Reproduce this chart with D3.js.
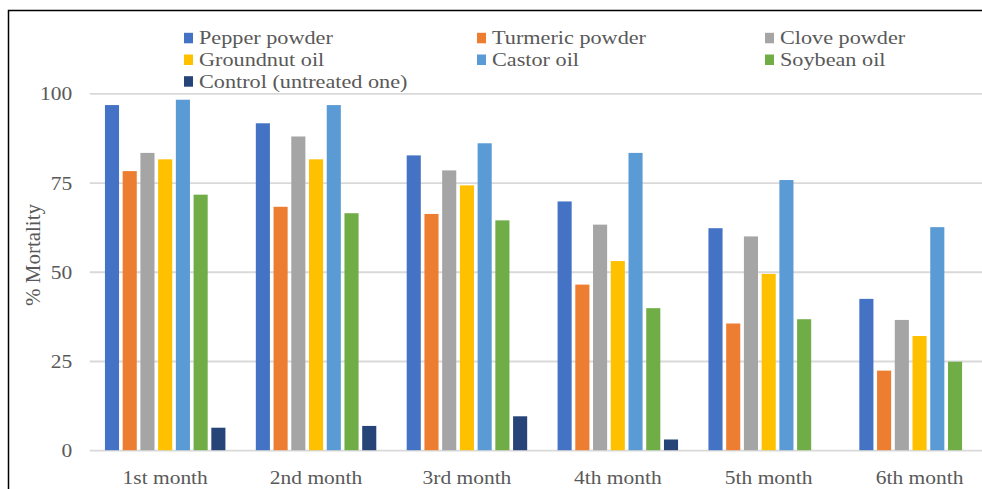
<!DOCTYPE html>
<html>
<head>
<meta charset="utf-8">
<script src="https://cdn.jsdelivr.net/npm/d3@7"></script>
<style>
html,body{margin:0;padding:0;background:#fff;}
svg{display:block;}
</style>
</head>
<body>
<svg id="chart" width="982" height="489"></svg>
<script>
const months = ["1st month","2nd month","3rd month","4th month","5th month","6th month"];
const seriesNames = ["Pepper powder","Turmeric powder","Clove powder","Groundnut oil","Castor oil","Soybean oil","Control (untreated one)"];
const seriesColors = ["#4472C4","#ED7D31","#A5A5A5","#FFC000","#5B9BD5","#70AD47","#264478"];
const pepper    = [96.7, 91.6, 82.6, 69.7, 62.2, 42.4];
const turmeric  = [78.2, 68.2, 66.2, 46.4, 35.5, 22.3];
const clove     = [83.3, 87.9, 78.4, 63.2, 59.9, 36.5];
const groundnut = [81.5, 81.5, 74.2, 53.0, 49.4, 32.0];
const castor    = [98.2, 96.7, 86.0, 83.3, 75.7, 62.5];
const soybean   = [71.6, 66.4, 64.4, 39.8, 36.7, 24.8];
const control   = [6.3, 6.8, 9.5, 3.0, 0, 0];
const yTicks = [0, 25, 50, 75, 100];
const yTitle = "% Mortality";

(function(){
const values = [pepper, turmeric, clove, groundnut, castor, soybean, control];

const svg = d3.select("#chart");
const FONT = "'Liberation Serif','Times New Roman',serif";
const TXT = "#595959";
const SX = 1.13;

svg.append("rect").attr("x",0).attr("y",0).attr("width",982).attr("height",489).attr("fill","#fff");
// outer frame
svg.append("rect").attr("x",8.5).attr("y",10.5).attr("width",1100).attr("height",600)
  .attr("fill","none").attr("stroke","#000").attr("stroke-width",1.5);

const pLeft = 89.75, pRight = 995, pTop = 93.3, pBottom = 450.2;
const x0 = d3.scaleBand().domain(months).range([pLeft, pRight]).paddingInner(0.2015).paddingOuter(0.1007);
const x1 = d3.scaleBand().domain(seriesNames).range([0, x0.bandwidth()]).paddingInner(0.205).paddingOuter(0);
const y = d3.scaleLinear().domain([0,100]).range([pBottom, pTop]);

// y axis with gridlines
const yAxis = svg.append("g").attr("transform",`translate(${pLeft},0)`)
  .call(d3.axisLeft(y).tickValues(yTicks).tickSize(-(pRight-pLeft)).tickFormat(d3.format("d")));
yAxis.select(".domain").remove();
yAxis.selectAll(".tick line").attr("stroke","#d9d9d9").attr("stroke-width",1.8);
yAxis.selectAll(".tick text")
  .attr("x",0).attr("dy",null).attr("y",0)
  .attr("dominant-baseline","central")
  .attr("transform",`translate(-17.5,0) scale(${SX},1)`)
  .attr("font-family",FONT).attr("font-size",19).attr("fill",TXT).attr("text-anchor","end");

// bars
const groups = svg.append("g").selectAll("g").data(months).join("g")
  .attr("transform", d => `translate(${x0(d)},0)`);
groups.selectAll("rect")
  .data((m,i) => seriesNames.map((s,j) => ({s, v: values[j][i], c: seriesColors[j]})))
  .join("rect")
  .attr("x", d => x1(d.s))
  .attr("width", x1.bandwidth())
  .attr("y", d => y(d.v))
  .attr("height", d => y(0) - y(d.v))
  .attr("fill", d => d.c);

// x axis labels
const xAxis = svg.append("g").attr("transform",`translate(0,${pBottom})`)
  .call(d3.axisBottom(x0).tickSize(0));
xAxis.select(".domain").remove();
xAxis.selectAll(".tick text")
  .attr("y",0).attr("dy",null)
  .attr("transform",`translate(0,33.5) scale(${SX},1)`)
  .attr("font-family",FONT).attr("font-size",19).attr("fill",TXT).attr("text-anchor","middle");

// y title
svg.append("text")
  .attr("transform","translate(40,255) rotate(-90)")
  .attr("text-anchor","middle")
  .attr("font-family",FONT).attr("font-size",21).attr("fill",TXT)
  .text(yTitle);

// legend
const legCols = [184, 477, 765];
const legRows = [44.3, 66, 87.7];
const leg = svg.append("g");
seriesNames.forEach((s,i) => {
  const cx = legCols[i % 3], by = legRows[Math.floor(i / 3)];
  leg.append("rect").attr("x",cx).attr("y",by-11.5).attr("width",9).attr("height",10.5).attr("fill",seriesColors[i]);
  leg.append("text")
    .attr("transform",`translate(${cx+15},${by}) scale(1.17,1)`)
    .attr("font-family",FONT).attr("font-size",19).attr("fill",TXT)
    .text(s);
});
})();
</script>
</body>
</html>
